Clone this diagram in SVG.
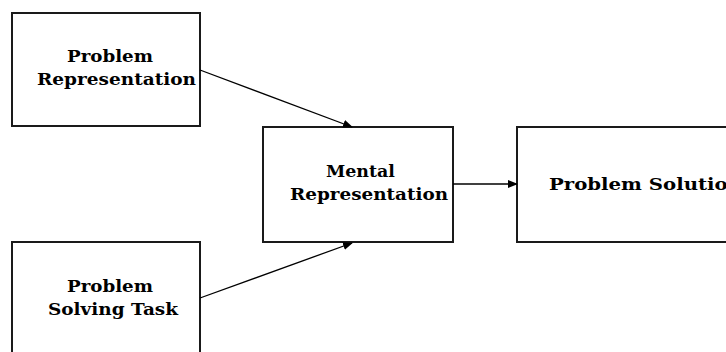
<svg xmlns="http://www.w3.org/2000/svg" width="726" height="352" viewBox="0 0 726 352">
<defs>
<marker id="ah" markerWidth="10" markerHeight="8" refX="9" refY="4" orient="auto" markerUnits="userSpaceOnUse">
<path d="M0,0 L10,4 L0,8 Z" fill="#000"/>
</marker>
<style>
.box{fill:#fff;stroke:#1a1a1a;stroke-width:2}
.t{font-family:"DejaVu Serif","Liberation Serif",serif;font-weight:bold;font-size:17px;fill:#000}
.c{stroke:#000;stroke-width:1.3;fill:none}
</style>
</defs>
<rect width="726" height="352" fill="#fff"/>
<g id="n-problem-representation">
<rect class="box" x="12" y="13" width="188" height="113"/>
<text class="t" x="67" y="62" textLength="86" lengthAdjust="spacingAndGlyphs">Problem</text>
<text class="t" x="37" y="85" textLength="159" lengthAdjust="spacingAndGlyphs">Representation</text>
</g>
<g id="n-problem-solving-task">
<rect class="box" x="12" y="242" width="188" height="130"/>
<text class="t" x="67" y="292" textLength="86" lengthAdjust="spacingAndGlyphs">Problem</text>
<text class="t" x="48" y="315" textLength="130" lengthAdjust="spacingAndGlyphs">Solving Task</text>
</g>
<g id="n-mental-representation">
<rect class="box" x="263" y="127" width="190" height="115"/>
<text class="t" x="326" y="177" textLength="69" lengthAdjust="spacingAndGlyphs">Mental</text>
<text class="t" x="290" y="200" textLength="158" lengthAdjust="spacingAndGlyphs">Representation</text>
</g>
<g id="n-problem-solution">
<rect class="box" x="517" y="127" width="230" height="115"/>
<text class="t" x="549" y="190" textLength="193" lengthAdjust="spacingAndGlyphs">Problem Solution</text>
</g>
<g id="connectors">
<line class="c" x1="200" y1="70" x2="352" y2="127" marker-end="url(#ah)"/>
<line class="c" x1="200" y1="298" x2="352" y2="243" marker-end="url(#ah)"/>
<line class="c" x1="453" y1="184" x2="517" y2="184" marker-end="url(#ah)"/>
</g>
</svg>
